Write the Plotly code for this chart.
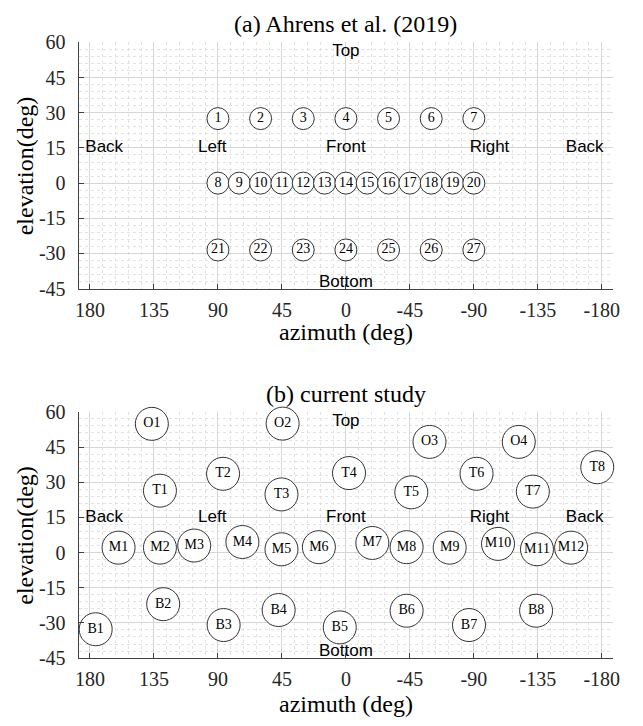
import plotly.graph_objects as go

# azimuth ticks (MATLAB-style hyphen minus)
az_ticks = [180, 135, 90, 45, 0, -45, -90, -135, -180]
az_ticklabels = ["180", "135", "90", "45", "0", "-45", "-90", "-135", "-180"]
el_ticks = [60, 45, 30, 15, 0, -15, -30, -45]
el_ticklabels = ["60", "45", "30", "15", "0", "-15", "-30", "-45"]

# (a) Ahrens et al. (2019) loudspeaker positions
ahrens_ids = ["1", "2", "3", "4", "5", "6", "7",
              "8", "9", "10", "11", "12", "13", "14", "15", "16", "17", "18", "19", "20",
              "21", "22", "23", "24", "25", "26", "27"]
ahrens_az = [90, 60, 30, 0, -30, -60, -90,
             90, 75, 60, 45, 30, 15, 0, -15, -30, -45, -60, -75, -90,
             90, 60, 30, 0, -30, -60, -90]
ahrens_el = [27.5, 27.5, 27.5, 27.5, 27.5, 27.5, 27.5,
             0, 0, 0, 0, 0, 0, 0, 0, 0, 0, 0, 0, 0,
             -28.5, -28.5, -28.5, -28.5, -28.5, -28.5, -28.5]

# (b) current study positions
study_ids = ["O1", "O2", "O3", "O4",
             "T1", "T2", "T3", "T4", "T5", "T6", "T7", "T8",
             "M1", "M2", "M3", "M4", "M5", "M6", "M7", "M8", "M9", "M10", "M11", "M12",
             "B1", "B2", "B3", "B4", "B5", "B6", "B7", "B8"]
study_az = [136.5, 44.5, -58.8, -121.6,
            130.8, 86.4, 45.3, -2.2, -46.0, -91.9, -131.5, -176.8,
            159.9, 130.8, 106.7, 72.8, 45.3, 19.0, -18.6, -42.7, -73.0, -107.0, -134.4, -158.4,
            176.0, 128.5, 86.0, 47.3, 4.3, -42.7, -86.6, -133.8]
study_el = [54.9, 55.0, 47.2, 47.2,
            26.4, 33.6, 24.8, 33.9, 25.7, 33.6, 26.0, 36.4,
            2.1, 2.1, 3.0, 4.5, 1.4, 2.3, 4.1, 2.3, 2.1, 3.7, 1.4, 2.1,
            -32.7, -22.0, -30.9, -24.5, -31.9, -24.8, -30.9, -24.8]

# direction labels
dir_text = ["Back", "Left", "Front", "Right", "Back", "Top", "Bottom"]
dir_az = [170, 94, 0, -101, -168, 0, 0]
dir_el = [15, 15, 15, 15, 15, 56, -42.5]

OFF = 8  # default page body margin
W, H = 643 - OFF, 726 - OFF
serif = "Liberation Serif"
sans = "Liberation Sans"

fig = go.Figure()

# circles with numbers
fig.add_trace(go.Scatter(
    x=ahrens_az, y=ahrens_el, text=ahrens_ids, mode="markers+text",
    textposition="middle center",
    marker=dict(symbol="circle", size=22, color="white", line=dict(color="#333333", width=1)),
    textfont=dict(family=serif, size=14, color="black"),
    xaxis="x", yaxis="y", cliponaxis=False, showlegend=False, hoverinfo="skip"
))
fig.add_trace(go.Scatter(
    x=study_az, y=study_el, text=study_ids, mode="markers+text",
    textposition="middle center",
    marker=dict(symbol="circle", size=33, color="white", line=dict(color="#333333", width=1)),
    textfont=dict(family=serif, size=14, color="black"),
    xaxis="x2", yaxis="y2", cliponaxis=False, showlegend=False, hoverinfo="skip"
))

# direction labels in both panels
for xa, ya in [("x", "y"), ("x2", "y2")]:
    fig.add_trace(go.Scatter(
        x=dir_az, y=dir_el, text=dir_text, mode="text",
        textposition="middle center",
        textfont=dict(family=sans, size=17, color="black"),
        xaxis=xa, yaxis=ya, cliponaxis=False, showlegend=False, hoverinfo="skip"
    ))


def px_x(p):
    return (p - OFF) / W


def px_y(p):
    return 1 - (p - OFF) / H


xdom = [px_x(76.7), px_x(619.8)]
top_dom = [px_y(286.2), px_y(32.1)]
bot_dom = [px_y(667.3), px_y(413.3)]

common = dict(
    ticks="inside", ticklen=5, tickcolor="#404040",
    showline=True, linecolor="#404040", linewidth=1,
    showgrid=True, gridcolor="#d6d6d6", gridwidth=1, zeroline=False,
    tickfont=dict(family=serif, size=20, color="#262626"),
)
xcommon = dict(common, range=[188, -188], tickmode="array", tickvals=az_ticks,
               ticktext=az_ticklabels, ticklabelstandoff=3,
               minor=dict(tickmode="linear", tick0=0, dtick=9, showgrid=True,
                          gridcolor="#e2e2e2", griddash="dot", gridwidth=1))
ycommon = dict(common, range=[-45, 60], tickmode="array", tickvals=el_ticks,
               ticktext=el_ticklabels, ticklabelstandoff=8,
               minor=dict(tickmode="linear", tick0=0, dtick=3, showgrid=True,
                          gridcolor="#e2e2e2", griddash="dot", gridwidth=1))

fig.update_layout(
    width=W, height=H,
    margin=dict(l=0, r=0, t=0, b=0),
    paper_bgcolor="white", plot_bgcolor="white",
    xaxis=dict(xcommon, domain=xdom, anchor="y"),
    yaxis=dict(ycommon, domain=top_dom, anchor="x"),
    xaxis2=dict(xcommon, domain=xdom, anchor="y2"),
    yaxis2=dict(ycommon, domain=bot_dom, anchor="x2"),
)

xc = (xdom[0] + xdom[1]) / 2
ann_font = dict(family=serif, size=24, color="black")
annotations = [
    dict(text="(a) Ahrens et al. (2019)", x=xc, y=px_y(13.5)),
    dict(text="(b) current study", x=xc, y=px_y(395)),
    dict(text="azimuth (deg)", x=xc, y=px_y(331)),
    dict(text="azimuth (deg)", x=xc, y=px_y(715)),
    dict(text="elevation(deg)", x=px_x(22), y=(top_dom[0] + top_dom[1]) / 2, textangle=-90),
    dict(text="elevation(deg)", x=px_x(22), y=(bot_dom[0] + bot_dom[1]) / 2, textangle=-90),
]
for a in annotations:
    fig.add_annotation(xref="paper", yref="paper", showarrow=False,
                       xanchor="center", yanchor="middle", font=ann_font, **a)

fig.write_html("out.html")
